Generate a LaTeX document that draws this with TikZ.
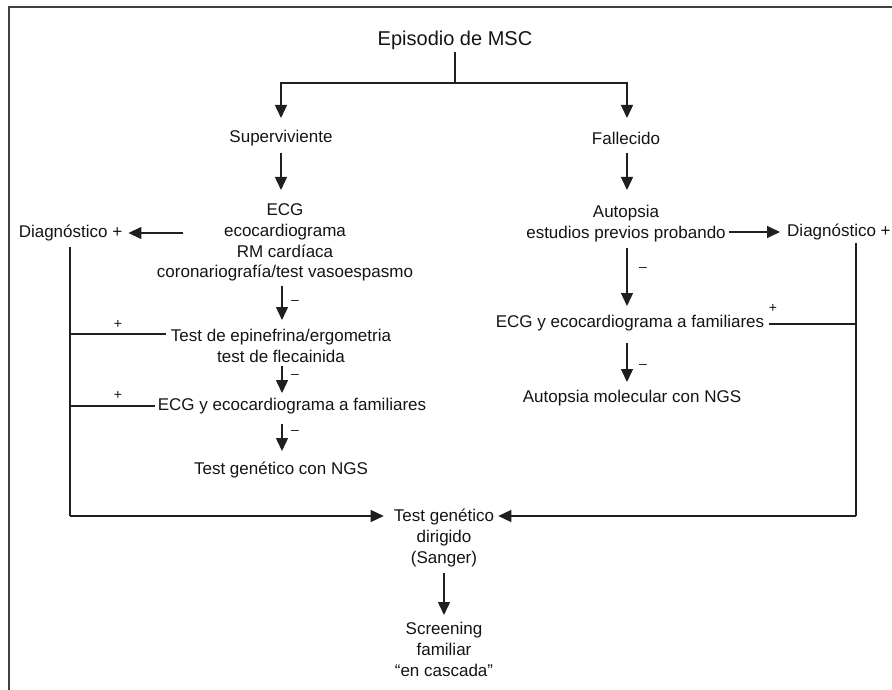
\documentclass[tikz,border=0pt]{standalone}
\usepackage{fontspec}
\setmainfont{Liberation Sans}
\usetikzlibrary{arrows.meta,calc}
\begin{document}
\begin{tikzpicture}[x=1pt,y=-1pt,
  txt/.style={inner sep=0pt, align=center, font=\fontsize{17}{20.7}\selectfont, text=black!92},
  ln/.style={line width=1.4pt, draw=black!88},
  arr/.style={ln, -{Triangle[length=13pt,width=12pt]}},
  sgn/.style={inner sep=0pt, font=\fontsize{14}{14}\selectfont, text=black!92},
  frame/.style={line width=2.6pt, draw=black!75}]
\useasboundingbox (0,0) rectangle (892,690);
\draw[frame] (9,690) -- (9,7) -- (892,7);

% nodes
\node[txt, font=\fontsize{20}{24}\selectfont] (title) at (455,40) {Episodio de MSC};
\node[txt] (sup) at (281,138) {Superviviente};
\node[txt] (fal) at (626,138) {Fallecido};
\node[txt] (sexam) at (285,242.5) {ECG\\ecocardiograma\\RM cardíaca\\coronariografía/test vasoespasmo};
\node[txt] (diagL) at (70.5,233) {Diagnóstico +};
\node[txt] (test2) at (281,346) {Test de epinefrina/ergometria\\test de flecainida};
\node[txt] (fam1) at (292,406) {ECG y ecocardiograma a familiares};
\node[txt] (ngs) at (281,470) {Test genético con NGS};
\node[txt] (tgd) at (444,538) {Test genético\\dirigido\\(Sanger)};
\node[txt] (scr) at (444,649.5) {Screening\\familiar\\“en cascada”};
\node[txt] (aut) at (626,223.5) {Autopsia\\estudios previos probando};
\node[txt, anchor=west] (diagR) at (787,232) {Diagnóstico +};
\node[txt] (fam2) at (630,323) {ECG y ecocardiograma a familiares};
\node[txt] (amol) at (632,398) {Autopsia molecular con NGS};

% top split
\coordinate (split) at ($(title)+(0,43)$);
\draw[ln] ($(title)+(0,12)$) -- (split);
\draw[arr] (split) -| ($(sup)+(0,-20)$);
\draw[arr] (split) -| ($(fal)+(1,-20)$);

% left column
\draw[arr] ($(sup)+(0,15)$) -- ($(sup)+(0,52)$);
\draw[arr] ($(diagL.east)+(61,0)$) -- ($(diagL.east)+(6,0)$);
\draw[arr] ($(sexam)+(-3,43.5)$) -- ($(test2)+(1,-26)$);
\draw[arr] ($(test2)+(1,20)$) -- ($(fam1)+(-10,-13)$);
\draw[arr] ($(fam1)+(-10,18)$) -- ($(ngs)+(1,-19)$);
\node[sgn] (m1) at (295,302) {–};
\node[sgn] (m2) at (295,376) {–};
\node[sgn] (m3) at (295,432) {–};

% left bus
\coordinate (lb) at ($(diagL)+(-0.5,283)$);
\draw[ln] ($(diagL)+(-0.5,14)$) -- (lb);
\draw[arr] (lb) -- ($(tgd.west)+(-10,-22)$);
\draw[ln] ($(test2.west)+(-5,-12)$) -- ($(lb)+(0,-182)$);
\draw[ln] ($(fam1.west)+(-3,0)$) -- ($(lb)+(0,-110)$);
\node[sgn] (p1) at (118,324) {+};
\node[sgn] (p2) at (118,395) {+};

% right column
\draw[arr] ($(fal)+(1,15)$) -- ($(fal)+(1,52)$);
\draw[arr] ($(aut.east)+(3,8.5)$) -- ($(diagR.west)+(-7,0)$);
\draw[arr] ($(aut)+(1,24.5)$) -- ($(fam2)+(-3,-17)$);
\draw[arr] ($(fam2)+(-3,20)$) -- ($(amol)+(-5,-16)$);
\node[sgn] (m4) at (643,269) {–};
\node[sgn] (m5) at (643,366) {–};

% right bus
\coordinate (rb) at (856,516);
\draw[ln] ($(diagR.west)+(69,11)$) -- (rb);
\draw[arr] (rb) -- ($(tgd.east)+(4,-22)$);
\draw[ln] ($(fam2.east)+(5,1)$) -- ($(rb)+(0,-192)$);
\node[sgn] (p3) at (773,308) {+};

% bottom
\draw[arr] ($(tgd)+(0,35)$) -- ($(scr)+(0,-34.5)$);
\end{tikzpicture}
\end{document}
